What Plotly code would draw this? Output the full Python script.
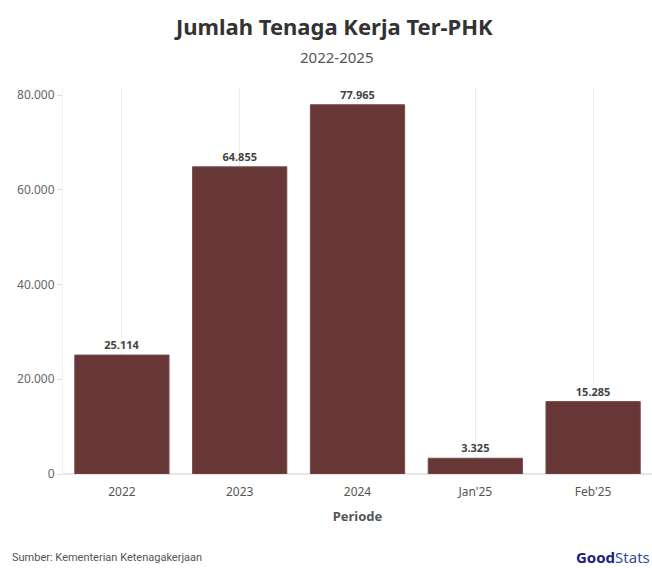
import plotly.graph_objects as go

categories = ["2022", "2023", "2024", "Jan'25", "Feb'25"]
values = [25114, 64855, 77965, 3325, 15285]
y_ticks = [0, 20000, 40000, 60000, 80000]
y_tick_labels = ["0", "20.000", "40.000", "60.000", "80.000"]

bar_color = "#673636"

fig = go.Figure()
fig.add_trace(go.Bar(
    x=categories,
    y=values,
    marker=dict(color=bar_color, line=dict(color="#7a4a4a", width=1)),
    text=[f"{v:,}".replace(",", ".") for v in values],
    textposition="outside",
    textfont=dict(family="Noto Sans", size=11, color="#444444", weight="bold"),
    cliponaxis=False,
))

fig.update_layout(
    width=652,
    height=568,
    margin=dict(l=63, r=0, t=88, b=94),
    plot_bgcolor="white",
    paper_bgcolor="white",
    separators=",.",
    bargap=0.2,
    showlegend=False,
    font=dict(family="Noto Sans", color="#555555"),
    xaxis=dict(
        showgrid=True,
        gridcolor="#ececec",
        gridwidth=1,
        showline=False,
        ticks="outside",
        ticklen=7,
        tickcolor="rgba(0,0,0,0)",
        tickfont=dict(size=12, color="#555555"),
        title=dict(text="<b>Periode</b>", font=dict(size=13, color="#555555"), standoff=12),
    ),
    yaxis=dict(
        range=[0, 81500],
        tickvals=y_ticks,
        ticktext=y_tick_labels,
        showgrid=False,
        zeroline=True,
        zerolinecolor="#e6e6e6",
        ticks="outside",
        ticklen=5,
        tickcolor="#dddddd",
        showline=True,
        linecolor="#f0f0f0",
        tickfont=dict(size=12, color="#666666"),
    ),
)

fig.add_annotation(
    text="<b>Jumlah Tenaga Kerja Ter-PHK</b>",
    xref="paper", yref="paper", x=0.46, y=1.0, yshift=62,
    xanchor="center", yanchor="middle", showarrow=False,
    font=dict(family="Noto Sans", size=22, color="#333333"),
)
fig.add_annotation(
    text="2022-2025",
    xref="paper", yref="paper", x=0.465, y=1.0, yshift=31,
    xanchor="center", yanchor="middle", showarrow=False,
    font=dict(family="Noto Sans", size=15, color="#555555"),
)
fig.add_annotation(
    text="Sumber: Kementerian Ketenagakerjaan",
    xref="paper", yref="paper", x=-0.09, y=0, yshift=-83,
    xanchor="left", yanchor="middle", showarrow=False,
    font=dict(family="Roboto", size=11, color="#555555"),
)
fig.add_annotation(
    text="<b>Good</b><span style='color:#3a4a9a'>Stats</span>",
    xref="paper", yref="paper", x=1.0, y=0, yshift=-83,
    xanchor="right", yanchor="middle", showarrow=False,
    font=dict(family="Noto Sans", size=15, color="#1a237a"),
)

fig.write_html("out.html")
